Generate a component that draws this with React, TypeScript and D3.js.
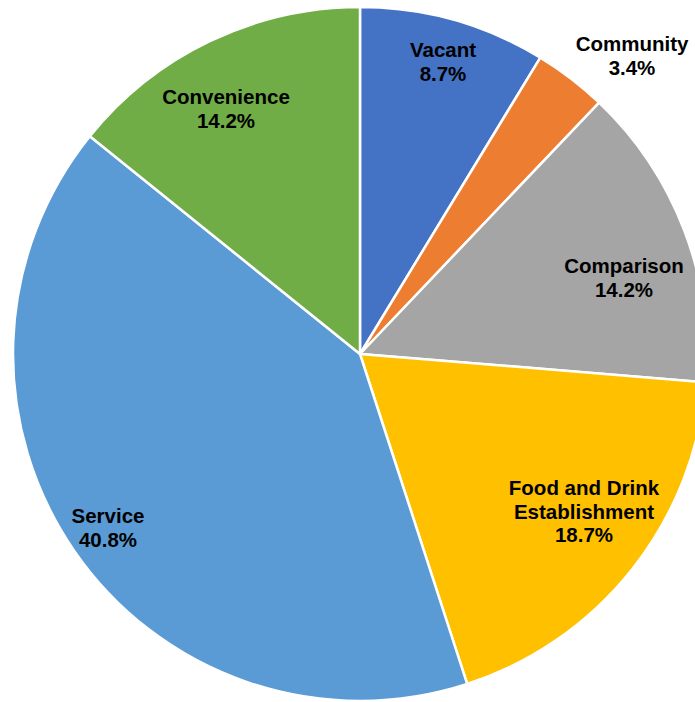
import React from "react";
import * as d3 from "d3";

const categories = ["Vacant", "Community", "Comparison", "Food and Drink Establishment", "Service", "Convenience"];
const values = [8.7, 3.4, 14.2, 18.7, 40.8, 14.2];
const colors = ["#4472C4", "#ED7D31", "#A5A5A5", "#FFC000", "#5B9BD5", "#70AD47"];
const labelLines = [["Vacant"], ["Community"], ["Comparison"], ["Food and Drink", "Establishment"], ["Service"], ["Convenience"]];
const titleText = "(Percentage of Units)";

// layout (label anchor: x center, y baseline of first line)
const labelLayout = [
  { x: 443, y: 57 },
  { x: 632, y: 51 },
  { x: 624, y: 273 },
  { x: 584, y: 495 },
  { x: 108, y: 523 },
  { x: 226, y: 104 },
];

const W = 695;
const H = 702;
const cx = 360;
const cy = 354;
const R = 347;

export default function App() {
  const data = categories.map((c, i) => ({ c, v: values[i], i }));
  const pie = d3.pie<any>().value((d) => d.v).sort(null).startAngle(0).endAngle(2 * Math.PI);
  const arc = d3.arc<any>().innerRadius(0).outerRadius(R);
  const arcs = pie(data);
  const fmt = d3.format(".1f");
  return (
    <svg width={W} height={H} style={{ position: "absolute", left: 0, top: 0 }} fontFamily="'Liberation Sans', Arial, sans-serif">
      <text x={414} y={-6} textAnchor="middle" fontSize={26} fontWeight="bold" fill="#000">{titleText}</text>
      <g transform={`translate(${cx},${cy})`}>
        {arcs.map((a, i) => (
          <path key={i} d={arc(a) as string} fill={colors[i]} stroke="#fff" strokeWidth={2.5} strokeLinejoin="round" />
        ))}
      </g>
      {arcs.map((a, i) => {
        const lines = [...labelLines[i], fmt(values[i]) + "%"];
        const L = labelLayout[i];
        return (
          <text key={i} x={L.x} y={L.y} textAnchor="middle" fontSize={20.5} fontWeight="bold" fill="#000">
            {lines.map((t, j) => (
              <tspan key={j} x={L.x} dy={j === 0 ? 0 : 23.5}>{t}</tspan>
            ))}
          </text>
        );
      })}
    </svg>
  );
}
